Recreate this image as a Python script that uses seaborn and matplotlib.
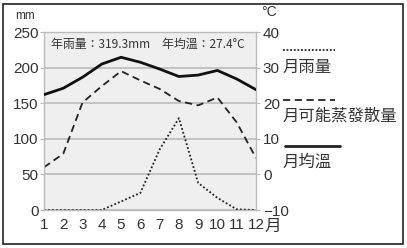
import matplotlib
matplotlib.use("Agg")
import matplotlib.pyplot as plt
import seaborn as sns
import pandas as pd
from matplotlib.patches import Rectangle
from matplotlib.lines import Line2D
from matplotlib import font_manager

months = [1, 2, 3, 4, 5, 6, 7, 8, 9, 10, 11, 12]
rain_mm = [0, 0, 0, 0, 12, 24, 85, 129, 38, 17, 1, 0]
pet_mm = [60, 79, 151, 174, 195, 182, 170, 153, 147, 158, 123, 73]
temp_c = [22.4, 24.2, 27.3, 31.0, 32.9, 31.5, 29.6, 27.5, 27.9, 29.2, 26.8, 23.8]
left_ticks = [0, 50, 100, 150, 200, 250]
right_ticks = [-10, 0, 10, 20, 30, 40]
legend_labels = ["月雨量", "月可能蒸發散量", "月均溫"]
note_text = "年雨量：319.3mm　年均溫：27.4°C"

sns.set_theme(style="white")
names = {f.name for f in font_manager.fontManager.ttflist}
base = "Liberation Sans Narrow" if "Liberation Sans Narrow" in names else "Liberation Sans"
fam = [base, "Noto Sans CJK TC", "DejaVu Sans"]
plt.rcParams["font.family"] = fam
cjk = ["Noto Sans CJK TC", "DejaVu Sans"]
tsize = 12 if base == "Liberation Sans Narrow" else 11

df = pd.DataFrame({"month": months, "rain": rain_mm, "pet": pet_mm, "temp": temp_c})

fig = plt.figure(figsize=(4.07, 2.48), dpi=100)
fig.patch.set_facecolor("white")
ax = fig.add_axes([44 / 407, 1 - 210 / 248, 212 / 407, 178 / 248])
ax.set_facecolor("#efefef")

sns.lineplot(data=df, x="month", y="rain", ax=ax, color="#222222", lw=1.3,
             linestyle=(0, (1, 1.2)))
sns.lineplot(data=df, x="month", y="pet", ax=ax, color="#222222", lw=1.3,
             linestyle=(0, (4, 2.5)))

ax.set_xlim(1, 12)
ax.set_ylim(0, 250)
ax.set_yticks(left_ticks)
ax.set_xticks(months)
ax.grid(axis="y", color="#bbbbbb", lw=1.2)
ax.set_axisbelow(True)
for s in ax.spines.values():
    s.set_color("#bbbbbb")
    s.set_linewidth(1.0)
ax.tick_params(axis="both", labelsize=tsize, colors="#333333", length=3, width=0.8,
               pad=1)
ax.tick_params(axis="x", pad=3, color="#bbbbbb")
ax.tick_params(axis="y", color="#bbbbbb")
for t in ax.get_xticklabels() + ax.get_yticklabels():
    t.set_color("#333333")
ax.set_xlabel("")
ax.set_ylabel("")

ax2 = ax.twinx()
sns.lineplot(data=df, x="month", y="temp", ax=ax2, color="#111111", lw=2.0)
ax2.set_ylim(-10, 40)
ax2.set_yticks(right_ticks)
ax2.set_xlim(1, 12)
ax2.set_ylabel("")
for s in ax2.spines.values():
    s.set_visible(False)
ax2.tick_params(axis="y", labelsize=tsize, colors="#333333", length=3, width=0.8,
                pad=2, color="#bbbbbb")

fig.text(15 / 407, 1 - 16 / 248, "mm", fontsize=8.5, color="#333333",
         va="center", ha="left")
fig.text(261 / 407, 1 - 12 / 248, "°C", fontsize=10, color="#333333",
         va="center", ha="left")
fig.text(264 / 407, 1 - 226 / 248, "月", fontsize=12, color="#333333",
         va="center", ha="left", family=cjk)
ax.text(0.035, 0.93, note_text, transform=ax.transAxes, fontsize=8.6,
        color="#333333", va="center", ha="left", family=cjk)

# legend on the right
styles = [dict(linestyle=(0, (1, 1)), lw=1.3), dict(linestyle=(0, (4, 2.5)), lw=1.3),
          dict(linestyle="-", lw=2.0)]
line_y = [50, 100, 146]
text_y = [67, 116, 162]
line_x = [(283, 335), (283, 335), (285, 340)]
for lab, st, ly, ty, lx in zip(legend_labels, styles, line_y, text_y, line_x):
    fig.add_artist(Line2D([lx[0] / 407, lx[1] / 407], [1 - ly / 248, 1 - ly / 248],
                          color="#222222", **st))
    fig.text(283 / 407, 1 - ty / 248, lab, fontsize=11.8, color="#333333",
             va="center", ha="left", family=cjk)

fig.add_artist(Rectangle((3 / 407, 4 / 248), 400 / 407, 240 / 248,
                         transform=fig.transFigure, fill=False,
                         edgecolor="#222222", lw=1.2))

fig.savefig("out.png", dpi=100)
